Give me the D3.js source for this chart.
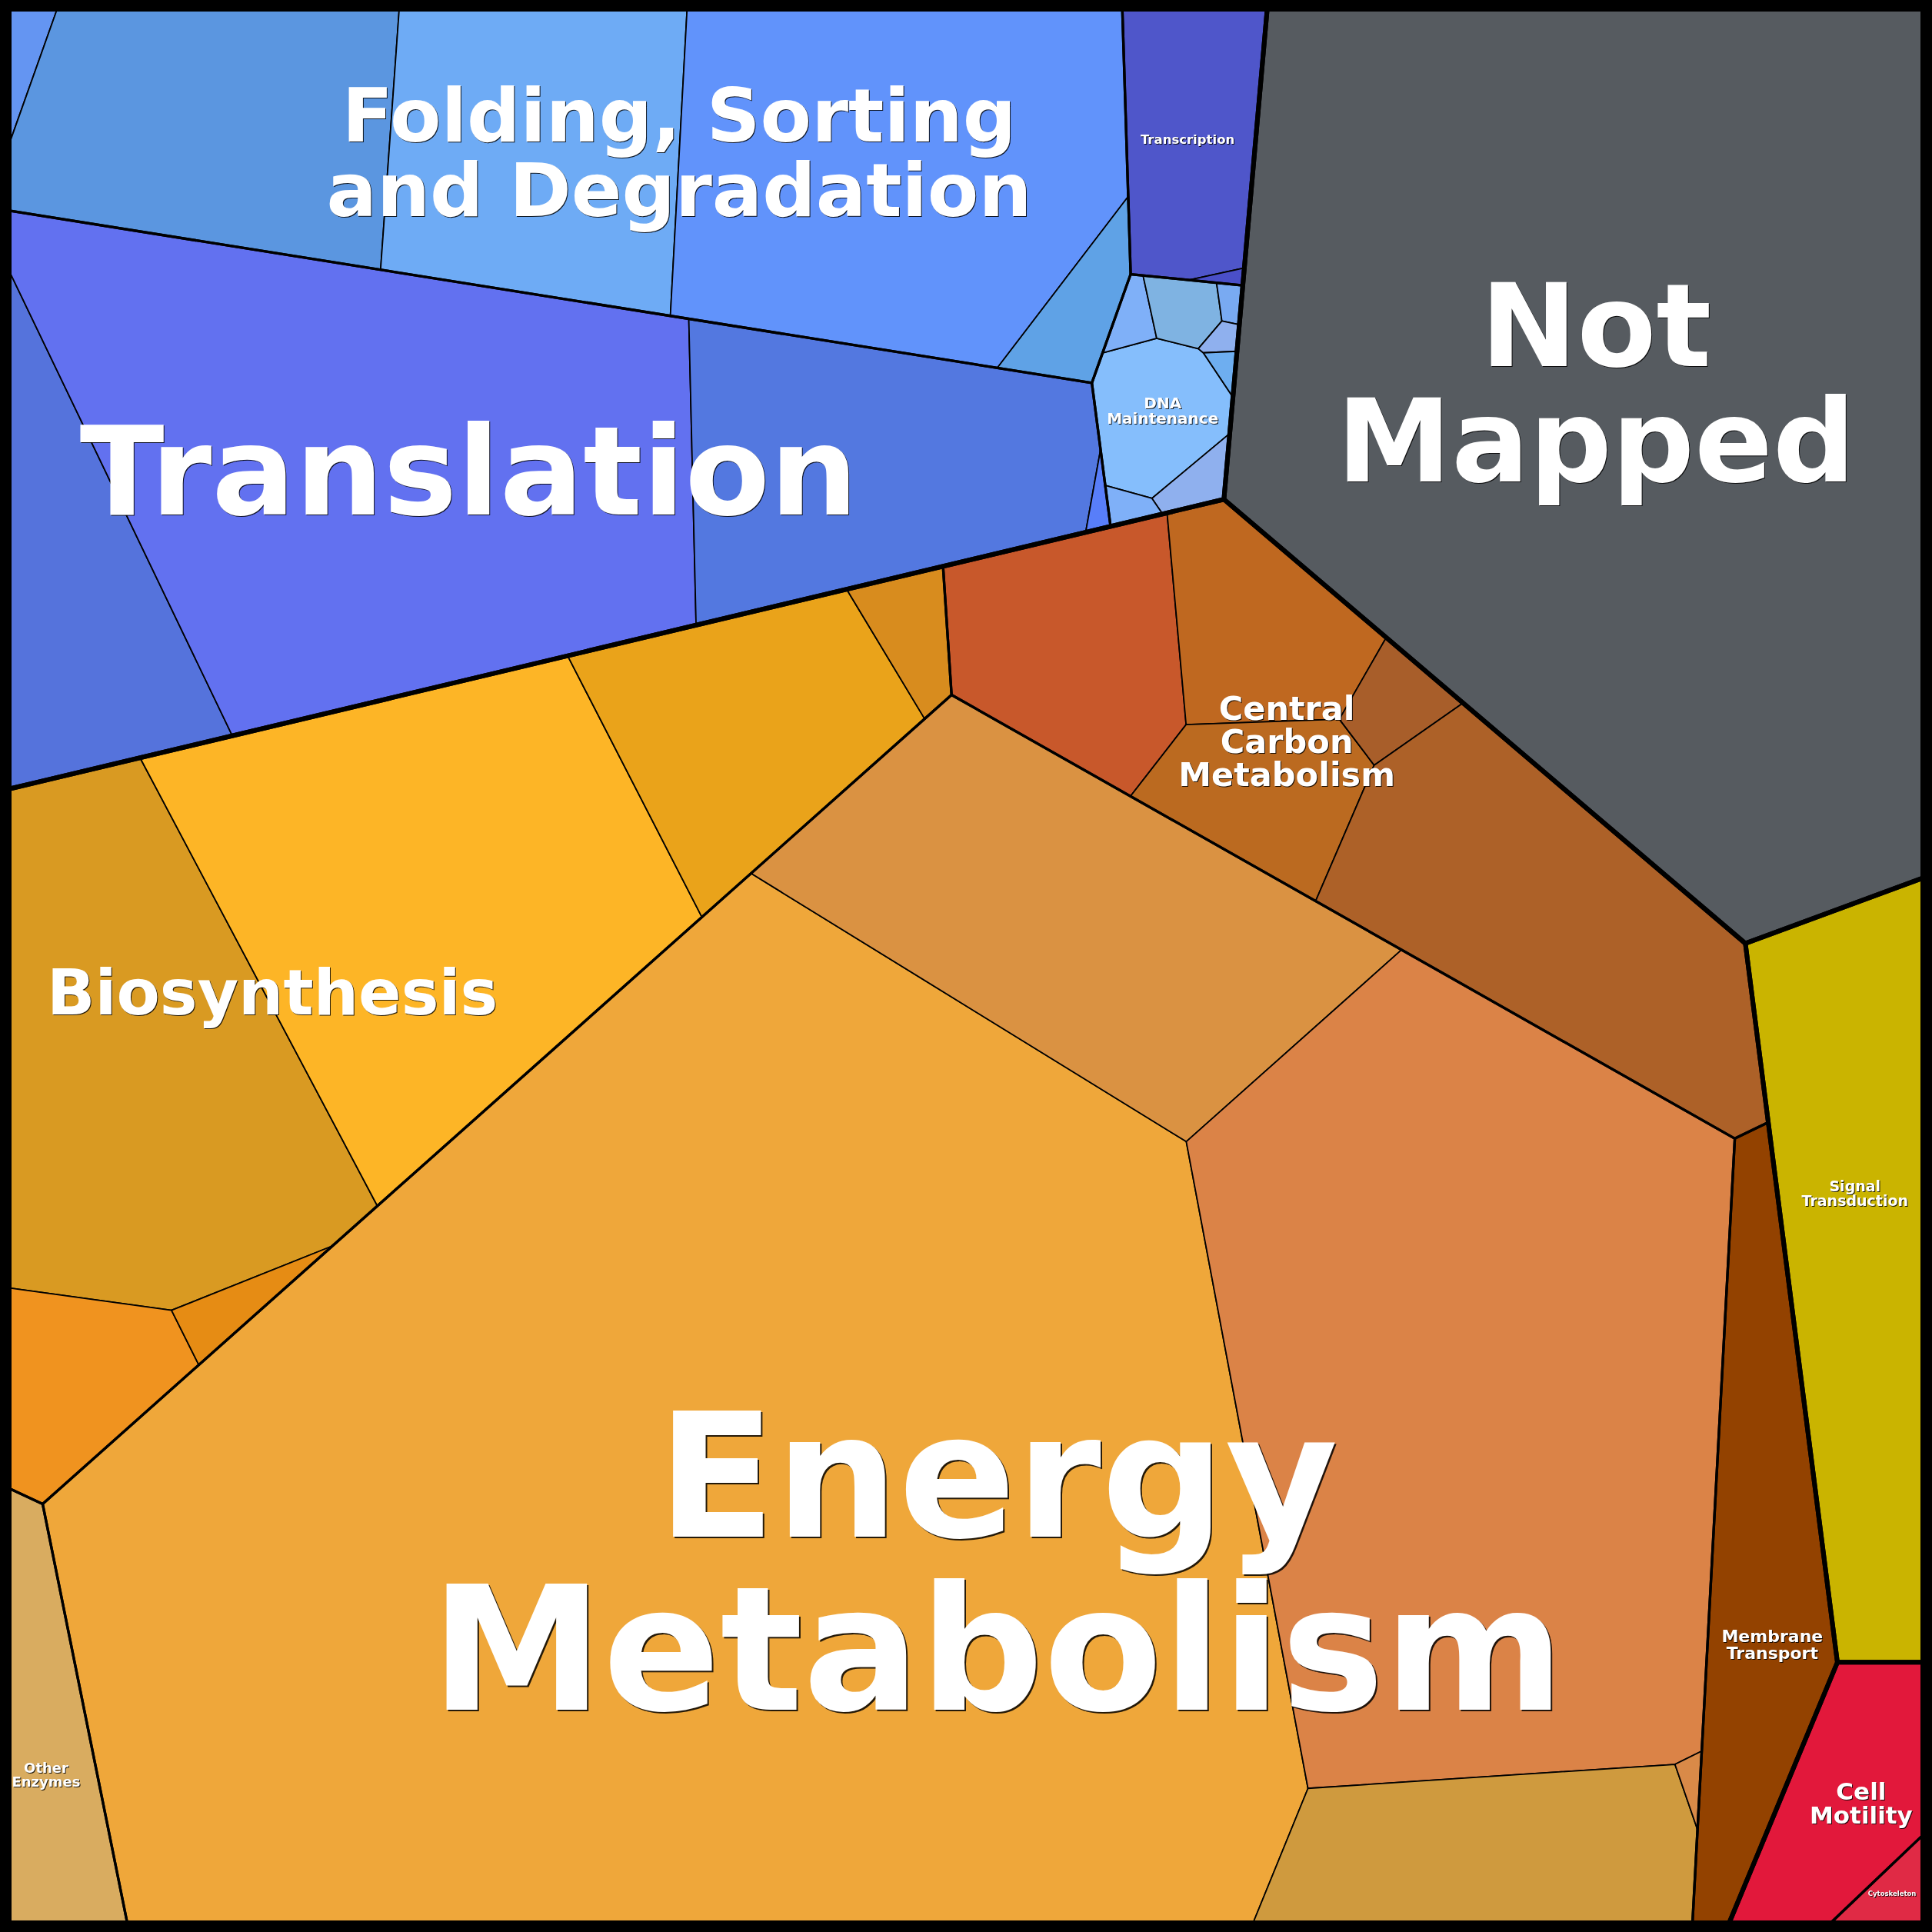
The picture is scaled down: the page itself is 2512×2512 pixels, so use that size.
<!DOCTYPE html>
<html>
<head>
<meta charset="utf-8">
<script src="https://cdn.jsdelivr.net/npm/d3@7"></script>
<style>
  body { margin: 0; background: #fff; }
  svg { display: block; }
</style>
</head>
<body>
<svg width="2512" height="2512"></svg>
<script>
var svg = d3.select("svg"),
    size = +svg.attr("width"),
    inset = 12;

// top level categories (drawn with the thickest borders, no label)
var groupNames = ["Genetic Information Processing", "Not Mapped", "Metabolism",
  "Environmental Information Processing", "Cellular Processes"];

// labelled categories, and the top level group of each
var pathwayNames = ["Folding, Sorting and Degradation", "Transcription", "DNA Maintenance", "Translation",
  "Not Mapped", "Energy Metabolism", "Central Carbon Metabolism", "Biosynthesis", "Other Enzymes",
  "Membrane Transport", "Signal Transduction", "Cell Motility", "Cytoskeleton"];
var pathwayGroup = [0, 0, 0, 0, 1, 2, 2, 2, 2, 2, 3, 4, 4];
var pathwayLines = ["Folding, Sorting\nand Degradation", "Transcription", "DNA\nMaintenance", "Translation",
  "Not\nMapped", "Energy\nMetabolism", "Central\nCarbon\nMetabolism", "Biosynthesis", "Other\nEnzymes",
  "Membrane\nTransport", "Signal\nTransduction", "Cell\nMotility", "Cytoskeleton"];

// leaf cells: category of each and its share of the map (%)
var leafPathway = [0, 0, 0, 0, 0,
  1, 1,
  2, 2, 2, 2, 2, 2, 2, 2,
  3, 3, 3, 3,
  4,
  5, 5, 5, 5, 5,
  6, 6, 6, 6, 6,
  7, 7, 7, 7, 7, 7,
  8, 9, 10, 11, 12];
var leafValue = [0.088, 2.321, 2.248, 3.861, 0.293,
  0.938, 0.013,
  0.452, 0.063, 0.116, 0.023, 0.024, 0.021, 0.080, 0.038,
  1.578, 6.678, 2.490, 0.027,
  14.22,
  26.02, 3.724, 9.612, 1.639, 0.028,
  1.322, 0.906, 0.741, 0.213, 2.601,
  3.753, 4.635, 1.723, 0.245, 0.728, 0.144,
  0.873, 1.794, 2.738, 0.882, 0.110];

// fill of each leaf
var leafColor = ["#6495f2", "#5b96e0", "#6eabf5", "#6193fb", "#5fa2e6",
  "#4f56ca", "#4a4fc8",
  "#85befc", "#7fb0f8", "#7fb3e2", "#79aaf2", "#8fb0ee", "#6eaef0", "#8fb0ee", "#7fb0f8",
  "#5573dc", "#6271f0", "#5378e0", "#587ef9",
  "#565b60",
  "#efa73a", "#da9242", "#db8347", "#cf9a3e", "#d98a48",
  "#c8582b", "#bf6820", "#bb6a20", "#a85e2a", "#ad6128",
  "#d99a22", "#fdb526", "#eaa31a", "#d88c1e", "#f0931f", "#e68c14",
  "#d9ac60", "#934200", "#cab400", "#e2183b", "#e02a45"];

// layout seeds of the power diagram (start sites, px)
var groupSeed = [[772, 458], [2086, 574], [1081, 1754], [2456, 1578], [2456, 2325]];
var pathwaySeed = [[727, 219], [1554, 193], [1523, 503], [664, 615], [2086, 574], [1262, 1988],
  [1778, 1077], [525, 1160], [24, 2238], [2244, 2041], [2456, 1578], [2400, 2330], [2480, 2414]];
var leafSeed = [[30, 74], [272, 160], [692, 190], [1169, 216], [1410, 400],
  [1550, 170], [1590, 355],
  [1510, 540], [1476, 415], [1545, 400], [1602, 392], [1592, 440], [1594, 484], [1560, 600], [1478, 656],
  [106, 779], [481, 599], [1153, 583], [1426, 632],
  [2086, 574],
  [920, 1977], [1397, 1203], [1919, 1789], [1959, 2401], [2185, 2323],
  [1380, 835], [1636, 812], [1644, 1040], [1812, 913], [2011, 1198],
  [186, 1354], [541, 1166], [977, 942], [1193, 812], [122, 1818], [330, 1714],
  [24, 2238], [2244, 2041], [2456, 1578], [2400, 2330], [2480, 2414]];

// label font sizes (px) and nudges from the cell centroid (px)
var labelSize = [97, 16.5, 20, 161, 150, 225, 43, 82, 18, 22, 19, 31, 8.5];
var labelNudge = [[74, -8], [-5, 0], [-6, 19], [30, -16], [-26, -32], [56, 160],
  [-87, -59], [-127, 45], [-6, 32], [18, 117], [0, -62], [22, 5], [0, 0]];

// ---- hierarchy
var rootData = {children: groupNames.map(function (name, g) {
  return {name: name, seed: groupSeed[g], children: []};
})};
var pathwayData = pathwayNames.map(function (name, p) {
  var d = {name: name, index: p, seed: pathwaySeed[p], children: []};
  rootData.children[pathwayGroup[p]].children.push(d);
  return d;
});
leafValue.forEach(function (v, k) {
  pathwayData[leafPathway[k]].children.push({index: k, seed: leafSeed[k], value: v});
});
var root = d3.hierarchy(rootData).sum(function (d) { return d.value || 0; });

// ---- power diagram
function clipHalf(poly, a, b, c) {
  // keep points with a*x + b*y <= c
  var out = [];
  for (var k = 0; k < poly.length; k++) {
    var P = poly[k], Q = poly[(k + 1) % poly.length];
    var fp = a * P[0] + b * P[1] - c, fq = a * Q[0] + b * Q[1] - c;
    if (fp <= 0) out.push(P);
    if ((fp < 0 && fq > 0) || (fp > 0 && fq < 0)) {
      var t = fp / (fp - fq);
      out.push([P[0] + t * (Q[0] - P[0]), P[1] + t * (Q[1] - P[1])]);
    }
  }
  return out;
}

function powerCells(poly, sites, w) {
  return sites.map(function (p, i) {
    var cell = poly;
    for (var j = 0; j < sites.length && cell.length > 2; j++) {
      if (j === i) continue;
      var q = sites[j];
      cell = clipHalf(cell, 2 * (q[0] - p[0]), 2 * (q[1] - p[1]),
        q[0] * q[0] + q[1] * q[1] - p[0] * p[0] - p[1] * p[1] - w[j] + w[i]);
    }
    return cell.length > 2 ? cell : [];
  });
}

// weights are tuned until every cell has the area of its value
function powerLayout(poly, sites, values) {
  var n = sites.length,
      A = Math.abs(d3.polygonArea(poly)),
      total = d3.sum(values),
      target = values.map(function (v) { return v / total * A; }),
      w = sites.map(function () { return 0; }),
      cells;
  function dist(i, j) { return Math.hypot(sites[i][0] - sites[j][0], sites[i][1] - sites[j][1]); }
  function pow(x, i) { return (x[0] - sites[i][0]) ** 2 + (x[1] - sites[i][1]) ** 2 - w[i]; }

  for (var it = 0; it < 4000; it++) {
    cells = powerCells(poly, sites, w);
    var worst = 0, step = [];
    for (var i = 0; i < n; i++) {
      var c = cells[i], area = c.length ? Math.abs(d3.polygonArea(c)) : 0;
      if (area <= 0) {
        var m = -Infinity;
        for (var j = 0; j < n; j++) if (j !== i) m = Math.max(m, w[j] - dist(i, j) ** 2);
        step[i] = Math.max(w[i], m) + 0.01 * A - w[i];
        worst = Infinity;
        continue;
      }
      var slope = 0;
      for (var k = 0; k < c.length; k++) {
        var P = c[k], Q = c[(k + 1) % c.length],
            mid = [(P[0] + Q[0]) / 2, (P[1] + Q[1]) / 2],
            len = Math.hypot(Q[0] - P[0], Q[1] - P[1]);
        for (var j = 0; j < n; j++) {
          if (j === i) continue;
          var d = dist(i, j);
          if (Math.abs(pow(mid, i) - pow(mid, j)) / (2 * d) < 0.01) slope += len / (2 * d);
        }
      }
      worst = Math.max(worst, Math.abs(target[i] - area) / target[i]);
      step[i] = slope > 0 ? 0.5 * (target[i] - area) / slope : 0;
    }
    w = w.map(function (x, i) { return x + step[i]; });
    if (worst < 1e-5) break;
  }
  return powerCells(poly, sites, w);
}

function place(node, poly) {
  node.polygon = poly;
  if (!node.children) return;
  var kids = node.children;
  var cells = kids.length === 1 ? [poly] :
    powerLayout(poly, kids.map(function (k) { return k.data.seed; }), kids.map(function (k) { return k.value; }));
  kids.forEach(function (k, i) { place(k, cells[i]); });
}

var lo = inset, hi = size - inset;
place(root, [[lo, lo], [hi, lo], [hi, hi], [lo, hi]]);

// ---- drawing
var line = function (poly) { return "M" + poly.join("L") + "Z"; };

svg.append("g")
  .selectAll("path")
  .data(root.leaves().filter(function (d) { return d.polygon.length; }))
  .enter().append("path")
  .attr("d", function (d) { return line(d.polygon); })
  .attr("fill", function (d) { return leafColor[d.data.index]; })
  .attr("stroke", "#000")
  .attr("stroke-width", 1.8)
  .attr("stroke-linejoin", "round");

var pathways = root.descendants().filter(function (d) { return d.depth === 2; });

svg.append("g")
  .selectAll("path")
  .data(pathways)
  .enter().append("path")
  .attr("d", function (d) { return line(d.polygon); })
  .attr("fill", "none")
  .attr("stroke", "#000")
  .attr("stroke-width", 3.3)
  .attr("stroke-linejoin", "round");

svg.append("g")
  .selectAll("path")
  .data(root.children)
  .enter().append("path")
  .attr("d", function (d) { return line(d.polygon); })
  .attr("fill", "none")
  .attr("stroke", "#000")
  .attr("stroke-width", 6)
  .attr("stroke-linejoin", "round");

svg.append("rect")
  .attr("x", 0).attr("y", 0)
  .attr("width", size).attr("height", size)
  .attr("fill", "none")
  .attr("stroke", "#000")
  .attr("stroke-width", inset * 2);

// labels, white with a small dark drop shadow
var labels = svg.append("g")
  .attr("font-family", "DejaVu Sans, sans-serif")
  .attr("font-weight", "bold")
  .attr("text-anchor", "middle")
  .attr("fill", "#fff");

pathways.forEach(function (d) {
  var p = d.data.index, fs = labelSize[p],
      rows = pathwayLines[p].split("\n"),
      c = d3.polygonCentroid(d.polygon),
      cx = c[0] + labelNudge[p][0], cy = c[1] + labelNudge[p][1],
      off = Math.max(1, fs * 0.012).toFixed(1);
  var t = labels.append("text")
    .attr("font-size", fs)
    .style("filter", "drop-shadow(" + off + "px " + off + "px 0px rgba(0,0,0,0.85))");
  rows.forEach(function (r, k) {
    t.append("tspan")
      .attr("x", cx)
      .attr("y", cy + (k - (rows.length - 1) / 2) * fs + 0.36 * fs)
      .text(r);
  });
});
</script>
</body>
</html>
